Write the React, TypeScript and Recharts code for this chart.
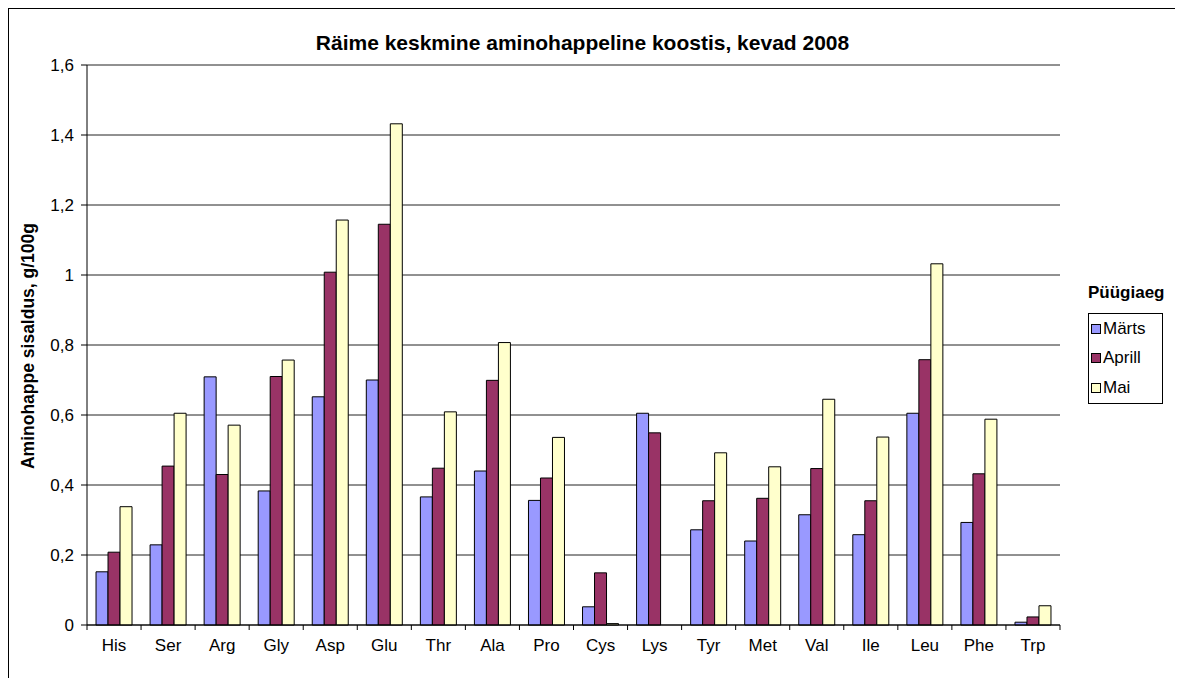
import React from 'react';
import { BarChart, Bar, XAxis, YAxis, CartesianGrid, Legend } from 'recharts';

const CATEGORIES = ['His', 'Ser', 'Arg', 'Gly', 'Asp', 'Glu', 'Thr', 'Ala', 'Pro', 'Cys', 'Lys', 'Tyr', 'Met', 'Val', 'Ile', 'Leu', 'Phe', 'Trp'];
const MARTS = [0.152, 0.229, 0.709, 0.383, 0.652, 0.7, 0.366, 0.44, 0.356, 0.052, 0.605, 0.272, 0.24, 0.315, 0.258, 0.605, 0.293, 0.008];
const APRILL = [0.208, 0.454, 0.43, 0.71, 1.008, 1.145, 0.448, 0.699, 0.42, 0.149, 0.549, 0.355, 0.362, 0.447, 0.355, 0.758, 0.432, 0.023];
const MAI = [0.338, 0.605, 0.571, 0.757, 1.157, 1.432, 0.609, 0.807, 0.536, 0.004, 0, 0.492, 0.452, 0.645, 0.537, 1.032, 0.588, 0.055];
const Y_TICKS = [0, 0.2, 0.4, 0.6, 0.8, 1, 1.2, 1.4, 1.6];

const SERIES = [
  { key: 'marts', name: 'Märts', color: '#9999FF', values: MARTS },
  { key: 'aprill', name: 'Aprill', color: '#993366', values: APRILL },
  { key: 'mai', name: 'Mai', color: '#FFFFCC', values: MAI },
];
const SERIES_ORDER = SERIES.map((s) => s.name);

const FONT = 'Arial, "Liberation Sans", sans-serif';

const data = CATEGORIES.map((c, i) => {
  const row: Record<string, string | number> = { name: c };
  SERIES.forEach((s) => {
    row[s.key] = s.values[i];
  });
  return row;
});

const fmt = (v: number) => String(v).replace('.', ',');

// Excel-style category ticks: marks sit between the bars, label in the middle
function CategoryTick(props: any) {
  const { x, y, payload, index, width } = props;
  const band = (width || 973) / CATEGORIES.length;
  const left = x - band / 2;
  return (
    <g>
      <line x1={left} y1={y} x2={left} y2={y + 5} stroke="#000" />
      {index === CATEGORIES.length - 1 && (
        <line x1={x + band / 2} y1={y} x2={x + band / 2} y2={y + 5} stroke="#000" />
      )}
      <text x={x} y={y + 26} textAnchor="middle" fill="#000" fontSize={17} fontFamily={FONT}>
        {payload.value}
      </text>
    </g>
  );
}

function LegendBox({ payload }: any) {
  const items = [...(payload || [])].sort(
    (a: any, b: any) => SERIES_ORDER.indexOf(a.value) - SERIES_ORDER.indexOf(b.value)
  );
  return (
    <div style={{ fontFamily: FONT, color: '#000', textAlign: 'left' }}>
      <div style={{ fontWeight: 'bold', fontSize: 17, lineHeight: '20px', height: 20, whiteSpace: 'nowrap' }}>
        Püügiaeg
      </div>
      <div style={{ border: '1px solid #000', width: 71, marginTop: 10, paddingLeft: 2, boxSizing: 'content-box' }}>
        {items.map((p: any) => (
          <div
            key={p.value}
            style={{ display: 'flex', alignItems: 'center', height: 29.5, fontSize: 17, whiteSpace: 'nowrap' }}
          >
            <span
              style={{
                display: 'inline-block',
                width: 8,
                height: 8,
                border: '1px solid #000',
                background: p.color,
                marginRight: 2,
                flexShrink: 0,
              }}
            />
            {p.value}
          </div>
        ))}
      </div>
    </div>
  );
}

export default function App() {
  return (
    <div style={{ position: 'relative', width: 1167, height: 670, fontFamily: FONT }}>
      <div style={{ position: 'absolute', left: 0, top: 0, width: 1175, height: 1, background: '#000', zIndex: 2 }} />
      <div style={{ position: 'absolute', left: 0, top: 0, width: 1, height: 678, background: '#000', zIndex: 2 }} />
      <div
        style={{
          position: 'absolute',
          left: 0,
          top: 23,
          width: 1149,
          textAlign: 'center',
          fontWeight: 'bold',
          fontSize: 21,
          lineHeight: '24px',
        }}
      >
        Räime keskmine aminohappeline koostis, kevad 2008
      </div>
      <div
        style={{
          position: 'absolute',
          left: 20,
          top: 338,
          transform: 'translate(-50%, -50%) rotate(-90deg)',
          whiteSpace: 'nowrap',
          fontWeight: 'bold',
          fontSize: 17.5,
        }}
      >
        Aminohappe sisaldus, g/100g
      </div>
      <BarChart
        width={1167}
        height={670}
        data={data}
        margin={{ top: 57, right: 115, bottom: 23, left: 34 }}
        barCategoryGap="16.7%"
        barGap={0}
      >
        <CartesianGrid horizontal vertical={false} stroke="#222" strokeWidth={1} />
        <XAxis
          dataKey="name"
          height={30}
          axisLine={{ stroke: '#000' }}
          tickLine={false}
          tickSize={0}
          tickMargin={0}
          interval={0}
          tick={<CategoryTick />}
        />
        <YAxis
          width={45}
          domain={[0, 1.6]}
          ticks={Y_TICKS}
          interval={0}
          axisLine={{ stroke: '#000' }}
          tickLine={{ stroke: '#000' }}
          tickSize={6}
          tickMargin={7}
          tickFormatter={fmt}
          tick={{ fill: '#000', fontSize: 17, fontFamily: FONT }}
        />
        <Legend
          layout="horizontal"
          align="center"
          verticalAlign="middle"
          content={<LegendBox />}
          wrapperStyle={{ position: 'absolute', left: 1080, top: 275, width: 92 }}
        />
        {SERIES.map((s) => (
          <Bar
            key={s.key}
            dataKey={s.key}
            name={s.name}
            fill={s.color}
            stroke="#000"
            strokeWidth={1}
            isAnimationActive={false}
          />
        ))}
      </BarChart>
    </div>
  );
}
